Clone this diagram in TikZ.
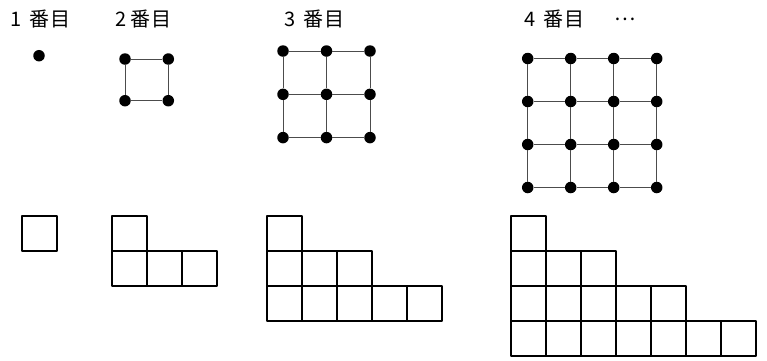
\documentclass[tikz,border=0pt]{standalone}
\usepackage{fontspec}
\newfontfamily\jp{Noto Sans CJK JP}
\begin{document}
\begin{tikzpicture}[x=1pt,y=-1pt]
\tikzset{
  dot/.style={circle,fill=black,inner sep=0pt,minimum size=11.5pt},
  gridline/.style={draw=black!70,line width=1pt},
  cell/.style={draw=black,line width=2pt,line join=round},
  lbl/.style={anchor=base west,font=\jp\fontsize{20}{20}\selectfont,inner sep=0pt}
}
\useasboundingbox (0,0) rectangle (767,360);
% labels
\node[lbl] (l1) at (10,26.5) {1\hspace{8pt}番\hspace{1pt}目};
\node[lbl] (l2) at (115.5,26.5) {2\hspace{4pt}番\hspace{1pt}目};
\node[lbl] (l3) at (284.5,26.5) {3\hspace{8pt}番\hspace{1pt}目};
\node[lbl] (l4) at (524,26.5) {4\hspace{8.5pt}番\hspace{1pt}目};
\node[lbl] (l5) at (614,20) {…};
% fig 1 dot
\node[dot] (g1) at (39,55.7) {};
% fig 2
\foreach \i in {0,1} \foreach \j in {0,1}
  \node[dot] (b-\i-\j) at ({125+43.3*\i},{59+41.7*\j}) {};
\draw[gridline] (b-0-0) -- (b-1-0) -- (b-1-1) -- (b-0-1) -- (b-0-0);
% fig 3
\foreach \i in {0,1,2} \foreach \j in {0,1,2}
  \node[dot] (c-\i-\j) at ({283+43.5*\i},{51+43.3*\j}) {};
\foreach \i in {0,1,2} {
  \draw[gridline] (c-0-\i) -- (c-1-\i) -- (c-2-\i);
  \draw[gridline] (c-\i-0) -- (c-\i-1) -- (c-\i-2);
}
% fig 4
\foreach \i in {0,...,3} \foreach \j in {0,...,3}
  \node[dot] (d-\i-\j) at ({527.7+43*\i},{58.5+43*\j}) {};
\foreach \i in {0,...,3} {
  \draw[gridline] (d-0-\i) -- (d-1-\i) -- (d-2-\i) -- (d-3-\i);
  \draw[gridline] (d-\i-0) -- (d-\i-1) -- (d-\i-2) -- (d-\i-3);
}
% staircases
\def\s{35}
\foreach \n/\x/\y in {1/22/216, 2/112/216, 3/267/216, 4/511/216} {
  \foreach \r in {1,...,\n} {
    \pgfmathtruncatemacro{\m}{2*\r-1}
    \foreach \c in {1,...,\m}
      \draw[cell] ({\x+(\c-1)*\s},{\y+(\r-1)*\s}) rectangle ++(\s,\s);
  }
}
\end{tikzpicture}
\end{document}
